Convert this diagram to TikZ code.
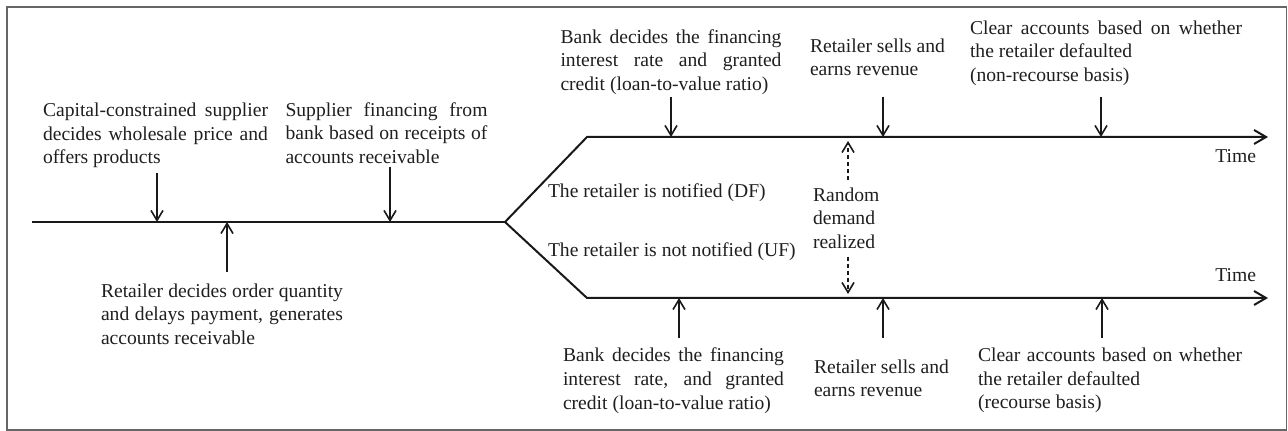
\documentclass[tikz,border=0pt]{standalone}
\usepackage{fontspec}
\setmainfont{Liberation Serif}
\usetikzlibrary{arrows.meta,positioning}
\newcommand\loosepar{\tolerance 10000\relax}
\tikzset{%
   lbl/.style={
      font=\fontsize{9.8}{11.8}\selectfont,
      text=black!88,
      inner sep=0pt,
      outer sep=0pt
   },
   jlbl/.style={
      lbl,
      align=justify,
      text width=#1,
      execute at begin node=\loosepar
   },
   tline/.style={
      line width=1pt,
      draw=black!90,
      line join=miter
   },
   evt/.style={
      -{Straight Barb[length=5pt,width=6pt]},
      line width=0.8pt,
      draw=black!90,
      shorten <=#1
   },
   evt/.default=2pt,
   rnd/.style={
      evt=4pt,
      dash pattern=on 2pt off 1.5pt,
      shorten >=2pt
   },
   boxframe/.style={
      draw=black!60,
      line width=0.8pt
   }
}

\begin{document}
\begin{tikzpicture}[x=0.5pt, y=-0.5pt]
   \useasboundingbox (0,0) rectangle (1288,431);
   \draw[boxframe] (7,7) rectangle (1286.5,430);

   % time lines
   \coordinate (t0) at (32,222);
   \coordinate (fork) at (505,222);
   \coordinate (upL) at (587,137);
   \coordinate (upR) at (1268,137);
   \coordinate (loL) at (587,298);
   \coordinate (loR) at (1268,298);
   \draw[tline] (t0) -- (fork);
   \draw[tline, {Straight Barb[length=6pt,width=7pt]}-{Straight Barb[length=6pt,width=7pt]}]
      (upR) -- (upL) -- (fork) -- (loL) -- (loR);
   \node[lbl, anchor=base east] (timeU) at (1256,163) {Time};
   \node[lbl, anchor=base east] (timeL) at (1256,282) {Time};

   % before the fork
   \coordinate (e1) at (157,222);
   \coordinate (e2) at (227,222);
   \coordinate (e3) at (390,222);
   \node[jlbl=112.5pt, above=27.1pt of e1, xshift=-0.75pt] (cap)
      {Capital-constrained supplier\linebreak decides wholesale price and\linebreak offers products};
   \draw[evt=2.6pt] (cap.south -| e1) -- (e1);
   \node[jlbl=121pt, below=30.8pt of e2, xshift=-2.5pt] (dec)
      {Retailer decides order quantity\linebreak and delays payment, generates\linebreak accounts receivable};
   \draw[evt=5.8pt] (dec.north -| e2) -- (e2);
   \node[jlbl=101pt, above=29.25pt of e3, xshift=-1.75pt] (fin)
      {Supplier financing from\linebreak bank based on receipts of\linebreak accounts receivable};
   \draw[evt=1.75pt] (fin.south -| e3) -- (e3);

   % notified (DF)
   \coordinate (u1) at (671,137);
   \coordinate (u2) at (883,137);
   \coordinate (u3) at (1101,137);
   \node[jlbl=110.5pt, above=21.25pt of u1] (bankU)
      {Bank decides the financing\linebreak interest rate and granted\linebreak credit (loan-to-value ratio)};
   \draw[evt=1.25pt] (bankU.south -| u1) -- (u1);
   \node[lbl, align=left, above=30.5pt of u2, xshift=-2.75pt] (sellU) {Retailer sells and\\earns revenue};
   \draw[evt=10.5pt] (sellU.south -| u2) -- (u2);
   \node[jlbl=136pt, above=25.75pt of u3, xshift=2.5pt] (clearU)
      {Clear accounts based on whether\linebreak the retailer defaulted\newline (non-recourse basis)};
   \draw[evt=5.75pt] (clearU.south -| u3) -- (u3);

   % not notified (UF)
   \coordinate (l1) at (679,298);
   \coordinate (l2) at (883,298);
   \coordinate (l3) at (1102,298);
   \node[jlbl=110.5pt, below=25.05pt of l1, xshift=-2.75pt] (bankL)
      {Bank decides the financing\linebreak interest rate, and granted\linebreak credit (loan-to-value ratio)};
   \draw[evt=5pt] (bankL.north -| l1) -- (l1);
   \node[lbl, align=left, below=30.8pt of l2, xshift=-0.75pt] (sellL) {Retailer sells and\\earns revenue};
   \draw[evt=10.8pt] (sellL.north -| l2) -- (l2);
   \node[jlbl=132pt, below=25.05pt of l3, xshift=4pt] (clearL)
      {Clear accounts based on whether\linebreak the retailer defaulted\newline (recourse basis)};
   \draw[evt=5pt] (clearL.north -| l3) -- (l3);

   % between the branches
   \node[lbl, anchor=base west] (df) at (548,198) {The retailer is notified (DF)};
   \node[lbl, anchor=base west] (uf) at (548,257) {The retailer is not notified (UF)};
   \node[lbl, align=left, anchor=north west] (rand) at (813,187.6) {Random\\demand\\realized};
   \coordinate (rdU) at (848,137);
   \coordinate (rdL) at (848,298);
   \draw[rnd] (rand.north -| rdU) -- (rdU);
   \draw[rnd] (rand.south -| rdL) -- (rdL);
\end{tikzpicture}
\end{document}
